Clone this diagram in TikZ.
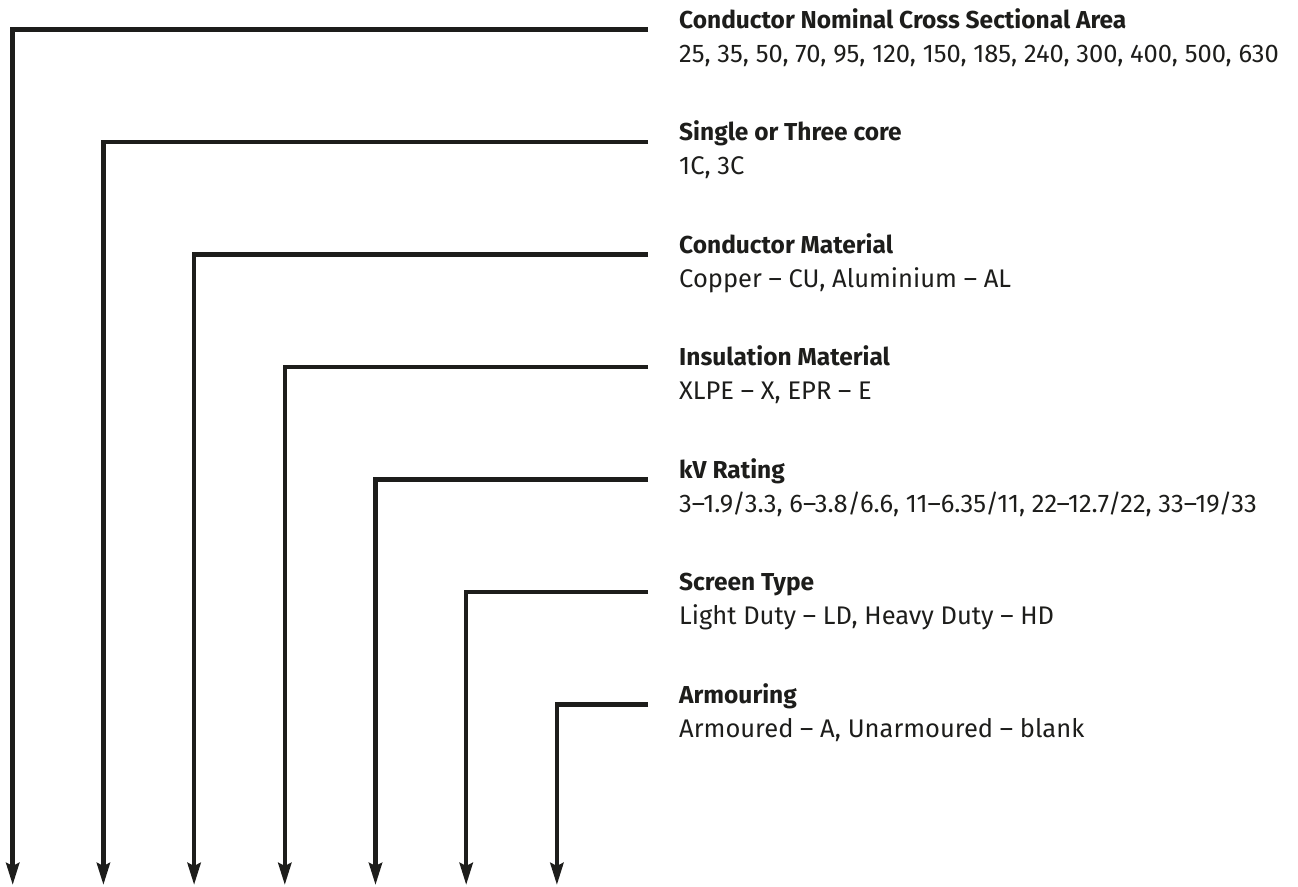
\documentclass[tikz,border=0pt]{standalone}
\usepackage{fontspec}
\setmainfont{Fira Sans}
\usetikzlibrary{arrows.meta,positioning}
\definecolor{inkdark}{HTML}{1D1D1B}

\begin{document}
\begin{tikzpicture}[x=1pt,y=-1pt,
    title/.style={anchor=base west,inner sep=0pt,text=inkdark,
      font=\fontsize{24.5}{24.5}\selectfont\bfseries},
    values/.style={anchor=base west,inner sep=0pt,text=inkdark,
      font=\fontsize{25.5}{25.5}\selectfont},
    lead/.style={draw=inkdark,line width=4.5pt,
      -{Stealth[length=22pt,width=13pt,inset=3pt]}}]
  \useasboundingbox (0,0) rectangle (1298,886);

  % headings
  \node[title] (t1) at (679,28)    {Conductor Nominal Cross Sectional Area};
  \node[title] (t2) at (679,140.5) {Single or Three core};
  \node[title] (t3) at (679,253)   {Conductor Material};
  \node[title] (t4) at (679,365.5) {Insulation Material};
  \node[title] (t5) at (679,478)   {kV Rating};
  \node[title] (t6) at (679,590.5) {Screen Type};
  \node[title] (t7) at (679,703)   {Armouring};

  % codes under each heading
  \foreach \i/\txt in {1/{25, 35, 50, 70, 95, 120, 150, 185, 240, 300, 400, 500, 630},
                       2/{1C, 3C},
                       3/{Copper – CU, Aluminium – AL},
                       4/{XLPE – X, EPR – E},
                       5/{3–1.9/3.3, 6–3.8/6.6, 11–6.35/11, 22–12.7/22, 33–19/33},
                       6/{Light Duty – LD, Heavy Duty – HD},
                       7/{Armoured – A, Unarmoured – blank}}
    \node[values] (v\i) at ([yshift=-34pt]t\i.base west) {\txt};

  % leader lines down to the arrows
  \foreach \i in {1,...,7} {
    \coordinate (c\i) at ({12.7+90.7*(\i-1)},{29.5+112.5*(\i-1)});
    \coordinate (e\i) at ({12.7+90.7*(\i-1)},885);
    \draw[lead] ([xshift=-31pt,yshift=-1.5pt]t\i.base west) -- (c\i) -- (e\i);
  }
\end{tikzpicture}
\end{document}
